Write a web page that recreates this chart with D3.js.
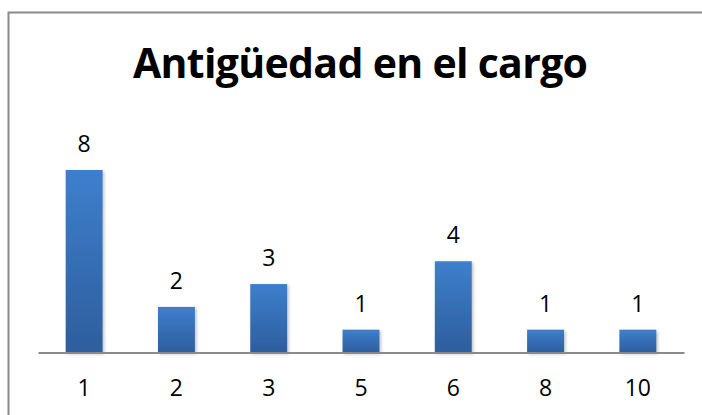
<!DOCTYPE html>
<html>
<head>
<meta charset="utf-8">
<script src="https://cdn.jsdelivr.net/npm/d3@7"></script>
<style>
  html, body { margin: 0; padding: 0; background: #fff; }
  svg { display: block; }
</style>
</head>
<body>
<script>
const title = "Antigüedad en el cargo";
const categories = ["1", "2", "3", "5", "6", "8", "10"];
const values = [8, 2, 3, 1, 4, 1, 1];

const W = 702, H = 415;
const svg = d3.select("body").append("svg").attr("width", W).attr("height", H);

const defs = svg.append("defs");
const grad = defs.append("linearGradient").attr("id", "barGrad")
  .attr("x1", 0).attr("y1", 0).attr("x2", 0).attr("y2", 1);
grad.append("stop").attr("offset", "0%").attr("stop-color", "#3e7fcd");
grad.append("stop").attr("offset", "100%").attr("stop-color", "#2d5e9d");
const f = defs.append("filter").attr("id", "shadow")
  .attr("x", "-20%").attr("y", "-20%").attr("width", "150%").attr("height", "150%");
f.append("feDropShadow").attr("dx", 1.5).attr("dy", 1.5).attr("stdDeviation", 1.5)
  .attr("flood-color", "#000").attr("flood-opacity", 0.25);

// border (left + top)
svg.append("path")
  .attr("d", "M8.5,420 L8.5,12.5 L710,12.5")
  .attr("fill", "none").attr("stroke", "#8a8a8a").attr("stroke-width", 2);

// title
const t = svg.append("text")
  .attr("x", 133).attr("y", 78)
  .attr("font-family", "'Open Sans', sans-serif")
  .attr("font-weight", "bold")
  .attr("font-size", 41)
  .attr("fill", "#000")
  .text(title);
const tw = t.node().getComputedTextLength();
t.attr("letter-spacing", (455 - tw) / (title.length - 1));

const x = d3.scaleBand().domain(categories).range([38, 684]).paddingInner(0.6).paddingOuter(0.3);
const y = d3.scaleLinear().domain([0, 8]).range([352.5, 170]);

const g = svg.append("g");
g.selectAll("rect.bar").data(values).join("rect")
  .attr("class", "bar")
  .attr("x", (d, i) => x(categories[i]))
  .attr("y", d => y(d))
  .attr("width", x.bandwidth())
  .attr("height", d => y(0) - y(d))
  .attr("fill", "url(#barGrad)")
  .attr("filter", "url(#shadow)");

// baseline axis
const axis = d3.axisBottom(x).tickSize(0).tickPadding(0);
const ax = svg.append("g").attr("transform", `translate(0,${y(0)})`).call(axis);
ax.select(".domain").attr("stroke", "#8a8a8a").attr("stroke-width", 2);
ax.selectAll(".tick text")
  .attr("dy", null)
  .attr("y", 43)
  .attr("font-family", "'Open Sans', sans-serif")
  .attr("font-size", 23)
  .attr("fill", "#000");

// value labels
g.selectAll("text.val").data(values).join("text")
  .attr("class", "val")
  .attr("x", (d, i) => x(categories[i]) + x.bandwidth() / 2)
  .attr("y", d => y(d) - 18)
  .attr("text-anchor", "middle")
  .attr("font-family", "'Open Sans', sans-serif")
  .attr("font-size", 23)
  .attr("fill", "#000")
  .text(d => d);
</script>
</body>
</html>
